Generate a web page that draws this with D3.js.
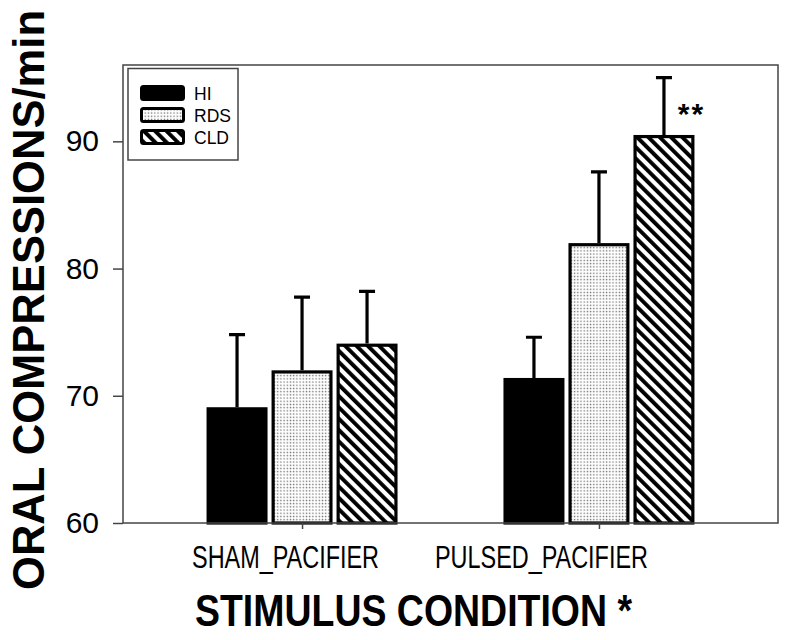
<!DOCTYPE html>
<html>
<head>
<meta charset="utf-8">
<script src="https://cdn.jsdelivr.net/npm/d3@7"></script>
<style>
  body { margin: 0; background: #fff; }
  text { font-family: "Liberation Sans", Arial, sans-serif; fill: #000; }
</style>
</head>
<body>
<svg id="chart" width="787" height="640"></svg>
<script>
// chart values
const conditions = ['SHAM_PACIFIER', 'PULSED_PACIFIER'];
const groups = ['HI', 'RDS', 'CLD'];
const meanHI = [69.1, 71.4];
const meanRDS = [72.0, 82.0];
const meanCLD = [74.1, 90.5];
const errHI = [5.7, 3.2];
const errRDS = [5.75, 5.6];
const errCLD = [4.1, 4.5];
const yTicks = [60, 70, 80, 90];
const starLabel = '**';

const PLOT = { left: 123, right: 778, top: 65, bottom: 523 };
const BAR_STROKE = 3.2;
const CAP_HALF = 8;

const svg = d3.select('#chart');
const defs = svg.append('defs');

// dotted fill (RDS)
const dots = defs.append('pattern')
  .attr('id', 'dots')
  .attr('patternUnits', 'userSpaceOnUse')
  .attr('width', 3.2)
  .attr('height', 3.2);
dots.append('rect').attr('width', 3.2).attr('height', 3.2).attr('fill', '#fff');
dots.append('rect').attr('x', 0.6).attr('y', 0.6).attr('width', 1.3).attr('height', 1.3).attr('fill', '#666');

// diagonal stripes (CLD)
const stripes = defs.append('pattern')
  .attr('id', 'stripes')
  .attr('patternUnits', 'userSpaceOnUse')
  .attr('width', 8)
  .attr('height', 8)
  .attr('patternTransform', 'rotate(-45)');
stripes.append('rect').attr('width', 8).attr('height', 8).attr('fill', '#fff');
stripes.append('rect').attr('x', 0).attr('width', 3.9).attr('height', 8).attr('fill', '#000');

const fills = { HI: '#000', RDS: 'url(#dots)', CLD: 'url(#stripes)' };

const rows = conditions.map((c, i) => ({
  cond: c,
  values: [
    { key: 'HI', mean: meanHI[i], err: errHI[i] },
    { key: 'RDS', mean: meanRDS[i], err: errRDS[i] },
    { key: 'CLD', mean: meanCLD[i], err: errCLD[i] }
  ]
}));

// set the scales
const x = d3.scalePoint().domain(conditions).range([PLOT.left, PLOT.right]).padding(0.603);
const xSub = d3.scaleBand().domain(groups).range([-95.5, 95.5]).paddingInner(0.0615);
const y = d3.scaleLinear().domain([60, 96]).range([PLOT.bottom, PLOT.top]);

// bars
const gCond = svg.selectAll('g.cond')
  .data(rows)
  .join('g')
  .attr('class', 'cond')
  .attr('transform', (d) => 'translate(' + x(d.cond) + ',0)');

// error bars (upper only), drawn first so bars cover the base
gCond.selectAll('path.err')
  .data((d) => d.values)
  .join('path')
  .attr('class', 'err')
  .attr('fill', 'none')
  .attr('stroke', '#000')
  .attr('stroke-width', 3.2)
  .attr('d', (d) => {
    const cx = xSub(d.key) + xSub.bandwidth() / 2;
    const top = y(d.mean + d.err);
    return 'M' + cx + ',' + y(d.mean) + 'V' + top +
      'M' + (cx - CAP_HALF) + ',' + top + 'H' + (cx + CAP_HALF);
  });

gCond.selectAll('rect.bar')
  .data((d) => d.values)
  .join('rect')
  .attr('class', 'bar')
  .attr('x', (d) => xSub(d.key) + BAR_STROKE / 2)
  .attr('width', xSub.bandwidth() - BAR_STROKE)
  .attr('y', (d) => y(d.mean) + BAR_STROKE / 2)
  .attr('height', (d) => y(60) - y(d.mean) - BAR_STROKE / 2)
  .attr('fill', (d) => fills[d.key])
  .attr('stroke', '#000')
  .attr('stroke-width', BAR_STROKE);

// significance marker beside the pulsed CLD error bar
svg.append('text')
  .attr('x', x('PULSED_PACIFIER') + xSub('CLD') + xSub.bandwidth() - 3)
  .attr('y', y(meanCLD[1] + errCLD[1]) + 46)
  .attr('text-anchor', 'middle')
  .attr('font-size', 30)
  .attr('font-weight', 'bold')
  .attr('letter-spacing', 2)
  .text(starLabel);

// frame
svg.append('rect')
  .attr('x', PLOT.left)
  .attr('y', PLOT.top)
  .attr('width', PLOT.right - PLOT.left)
  .attr('height', PLOT.bottom - PLOT.top)
  .attr('fill', 'none')
  .attr('stroke', '#444')
  .attr('stroke-width', 1.5);

// y axis
const yAxis = svg.append('g')
  .attr('transform', 'translate(' + PLOT.left + ',0)')
  .call(d3.axisLeft(y).tickValues(yTicks).tickSize(10).tickPadding(14));
yAxis.select('.domain').remove();
yAxis.selectAll('.tick line').attr('stroke', '#444').attr('stroke-width', 1.5);
yAxis.selectAll('.tick text')
  .attr('font-size', 30)
  .attr('font-family', '"Liberation Sans", Arial, sans-serif')
  .attr('fill', '#000');

// x axis
const xAxis = svg.append('g')
  .attr('transform', 'translate(0,' + PLOT.bottom + ')')
  .call(d3.axisBottom(x).tickSize(6).tickFormat(''));
xAxis.select('.domain').remove();
xAxis.selectAll('.tick line').attr('stroke', '#444').attr('stroke-width', 1.5);

// category labels (sit a little left of the ticks in the reference)
const labelShift = [-16.5, -57.5];
const labelLen = [187, 213];
svg.selectAll('text.xlabel')
  .data(conditions)
  .join('text')
  .attr('class', 'xlabel')
  .attr('x', (d, i) => x(d) + labelShift[i])
  .attr('y', 568)
  .attr('text-anchor', 'middle')
  .attr('font-size', 31)
  .attr('textLength', (d, i) => labelLen[i])
  .attr('lengthAdjust', 'spacingAndGlyphs')
  .text((d) => d);

// axis titles
svg.append('text')
  .attr('x', 413.5)
  .attr('y', 626)
  .attr('text-anchor', 'middle')
  .attr('font-size', 45)
  .attr('font-weight', 'bold')
  .attr('textLength', 437)
  .attr('lengthAdjust', 'spacingAndGlyphs')
  .text('STIMULUS CONDITION *');

svg.append('text')
  .attr('transform', 'translate(44,300) rotate(-90)')
  .attr('text-anchor', 'middle')
  .attr('font-size', 44)
  .attr('font-weight', 'bold')
  .attr('textLength', 580)
  .attr('lengthAdjust', 'spacingAndGlyphs')
  .text('ORAL COMPRESSIONS/min');

// legend
const legend = svg.append('g');
legend.append('rect')
  .attr('x', 128)
  .attr('y', 68.5)
  .attr('width', 110)
  .attr('height', 91.5)
  .attr('fill', '#fff')
  .attr('stroke', '#444')
  .attr('stroke-width', 1.5);
const legendY = d3.scalePoint().domain(groups).range([93, 137]);
const item = legend.selectAll('g.item')
  .data(groups)
  .join('g')
  .attr('class', 'item')
  .attr('transform', (d) => 'translate(0,' + legendY(d) + ')');
item.append('rect')
  .attr('x', 141.5)
  .attr('y', -6.5)
  .attr('width', 42)
  .attr('height', 13)
  .attr('rx', 2)
  .attr('fill', (d) => fills[d])
  .attr('stroke', '#000')
  .attr('stroke-width', 3);
item.append('text')
  .attr('x', 194)
  .attr('y', 6.5)
  .attr('font-size', 17.5)
  .text((d) => d);
</script>
</body>
</html>
